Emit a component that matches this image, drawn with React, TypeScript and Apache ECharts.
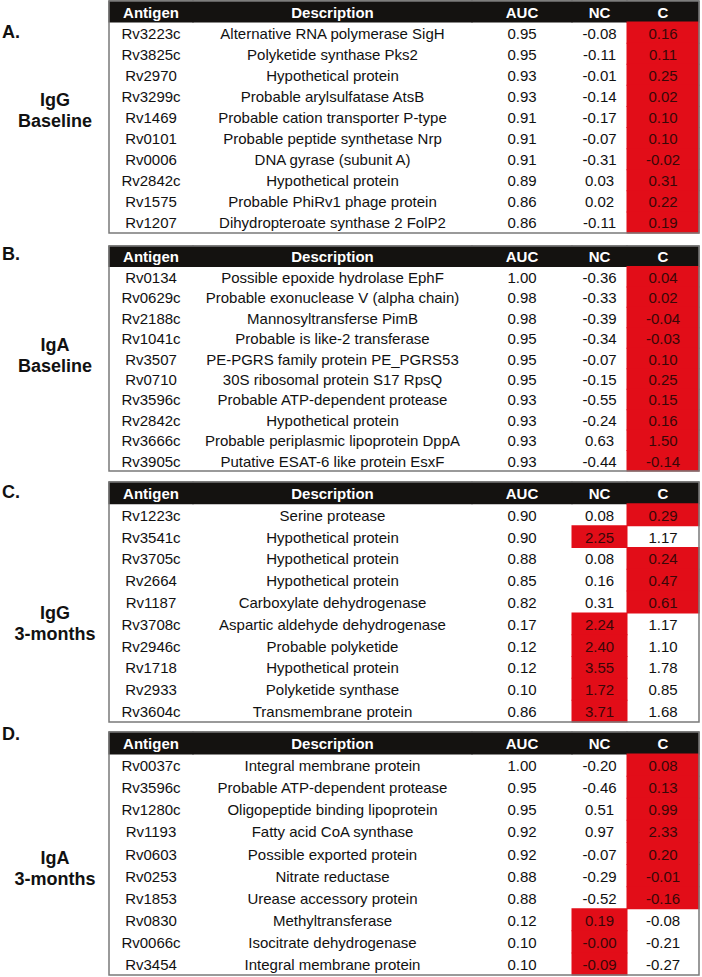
import React, { useEffect, useRef } from "react";
import * as echarts from "echarts";

const COLUMNS = ["Antigen", "Description", "AUC", "NC", "C"];

// Panel A: IgG Baseline
const antigensA = ["Rv3223c", "Rv3825c", "Rv2970", "Rv3299c", "Rv1469", "Rv0101", "Rv0006", "Rv2842c", "Rv1575", "Rv1207"];
const descA = [
  "Alternative RNA polymerase SigH", "Polyketide synthase Pks2", "Hypothetical protein", "Probable arylsulfatase AtsB",
  "Probable cation transporter P-type", "Probable peptide synthetase Nrp", "DNA gyrase (subunit A)", "Hypothetical protein",
  "Probable PhiRv1 phage protein", "Dihydropteroate synthase 2 FolP2",
];
const aucA = [0.95, 0.95, 0.93, 0.93, 0.91, 0.91, 0.91, 0.89, 0.86, 0.86];
const ncA = [-0.08, -0.11, -0.01, -0.14, -0.17, -0.07, -0.31, 0.03, 0.02, -0.11];
const cA = [0.16, 0.11, 0.25, 0.02, 0.1, 0.1, -0.02, 0.31, 0.22, 0.19];
const hiA = ["C", "C", "C", "C", "C", "C", "C", "C", "C", "C"];

// Panel B: IgA Baseline
const antigensB = ["Rv0134", "Rv0629c", "Rv2188c", "Rv1041c", "Rv3507", "Rv0710", "Rv3596c", "Rv2842c", "Rv3666c", "Rv3905c"];
const descB = [
  "Possible epoxide hydrolase EphF", "Probable exonuclease V (alpha chain)", "Mannosyltransferse PimB", "Probable is like-2 transferase",
  "PE-PGRS family protein PE_PGRS53", "30S ribosomal protein S17 RpsQ", "Probable ATP-dependent protease", "Hypothetical protein",
  "Probable periplasmic lipoprotein DppA", "Putative ESAT-6 like protein EsxF",
];
const aucB = [1.0, 0.98, 0.98, 0.95, 0.95, 0.95, 0.93, 0.93, 0.93, 0.93];
const ncB = [-0.36, -0.33, -0.39, -0.34, -0.07, -0.15, -0.55, -0.24, 0.63, -0.44];
const cB = [0.04, 0.02, -0.04, -0.03, 0.1, 0.25, 0.15, 0.16, 1.5, -0.14];
const hiB = ["C", "C", "C", "C", "C", "C", "C", "C", "C", "C"];

// Panel C: IgG 3-months
const antigensC = ["Rv1223c", "Rv3541c", "Rv3705c", "Rv2664", "Rv1187", "Rv3708c", "Rv2946c", "Rv1718", "Rv2933", "Rv3604c"];
const descC = [
  "Serine protease", "Hypothetical protein", "Hypothetical protein", "Hypothetical protein", "Carboxylate dehydrogenase",
  "Aspartic aldehyde dehydrogenase", "Probable polyketide", "Hypothetical protein", "Polyketide synthase", "Transmembrane protein",
];
const aucC = [0.9, 0.9, 0.88, 0.85, 0.82, 0.17, 0.12, 0.12, 0.1, 0.86];
const ncC = [0.08, 2.25, 0.08, 0.16, 0.31, 2.24, 2.4, 3.55, 1.72, 3.71];
const cC = [0.29, 1.17, 0.24, 0.47, 0.61, 1.17, 1.1, 1.78, 0.85, 1.68];
const hiC = ["C", "NC", "C", "C", "C", "NC", "NC", "NC", "NC", "NC"];

// Panel D: IgA 3-months
const antigensD = ["Rv0037c", "Rv3596c", "Rv1280c", "Rv1193", "Rv0603", "Rv0253", "Rv1853", "Rv0830", "Rv0066c", "Rv3454"];
const descD = [
  "Integral membrane protein", "Probable ATP-dependent protease", "Oligopeptide binding lipoprotein", "Fatty acid CoA synthase",
  "Possible exported protein", "Nitrate reductase", "Urease accessory protein", "Methyltransferase", "Isocitrate dehydrogenase",
  "Integral membrane protein",
];
const aucD = [1.0, 0.95, 0.95, 0.92, 0.92, 0.88, 0.88, 0.12, 0.1, 0.1];
const ncD = [-0.2, -0.46, 0.51, 0.97, -0.07, -0.29, -0.52, 0.19, -0, -0.09];
const cD = [0.08, 0.13, 0.99, 2.33, 0.2, -0.01, -0.16, -0.08, -0.21, -0.27];
const hiD = ["C", "C", "C", "C", "C", "C", "C", "NC", "NC", "NC"];

const panelLetters = ["A.", "B.", "C.", "D."];
const panelTitles = ["IgG\nBaseline", "IgA\nBaseline", "IgG\n3-months", "IgA\n3-months"];

const PANELS = [
  { antigens: antigensA, desc: descA, auc: aucA, nc: ncA, c: cA, hi: hiA },
  { antigens: antigensB, desc: descB, auc: aucB, nc: ncB, c: cB, hi: hiB },
  { antigens: antigensC, desc: descC, auc: aucC, nc: ncC, c: cC, hi: hiC },
  { antigens: antigensD, desc: descD, auc: aucD, nc: ncD, c: cD, hi: hiD },
];

// layout (pixels)
const TABLE_LEFT = 109;
const TABLE_WIDTH = 590;
const COL_EDGES = [0, 84, 363, 463, 518, 590];
const GRID_TOPS = [1, 246, 482, 732];
const GRID_HEIGHTS = [232, 225, 240, 243];
const LETTER_Y = [33, 255, 493, 735];
const TITLE_Y = [110, 355, 623, 868];

const RED = "#e20d18";
const HEADER = "#141210";
const FONT = "'Liberation Sans', Arial, Helvetica, sans-serif";

function fmt(v: number): string {
  if (v < 0 || Object.is(v, -0)) return "-" + Math.abs(v).toFixed(2);
  return v.toFixed(2);
}

function buildCells(p: any) {
  const cells: any[] = [];
  COLUMNS.forEach((name, ci) => cells.push([ci, 0, name, 1]));
  p.antigens.forEach((a: string, r: number) => {
    const row = r + 1;
    cells.push([0, row, a, 0]);
    cells.push([1, row, p.desc[r], 0]);
    cells.push([2, row, p.auc[r].toFixed(2), 0]);
    cells.push([3, row, fmt(p.nc[r]), p.hi[r] === "NC" ? 2 : 0]);
    cells.push([4, row, fmt(p.c[r]), p.hi[r] === "C" ? 2 : 0]);
  });
  return cells;
}

function renderCell(params: any, api: any) {
  const col = api.value(0);
  const row = api.value(1);
  const text = api.value(2);
  const kind = api.value(3);
  const left = api.coord([COL_EDGES[col], row]);
  const right = api.coord([COL_EDGES[col + 1], row]);
  const h = api.size([0, 1])[1];
  const cx = (left[0] + right[0]) / 2;
  const cy = left[1];
  const children: any[] = [];
  if (kind === 1 || kind === 2) {
    children.push({
      type: "rect",
      shape: { x: left[0] - 0.5, y: cy - h / 2 - 0.5, width: right[0] - left[0] + 1, height: h + 1 },
      style: { fill: kind === 1 ? HEADER : RED },
    });
  }
  children.push({
    type: "text",
    style: {
      x: cx,
      y: cy + 0.5,
      text,
      align: "center",
      verticalAlign: "middle",
      fontFamily: FONT,
      fontSize: 15,
      fontWeight: kind === 1 ? "bold" : "normal",
      fill: kind === 1 ? "#ffffff" : kind === 2 ? "#3a0707" : "#111111",
    },
  });
  return { type: "group", children };
}

export default function App() {
  const ref = useRef<HTMLDivElement>(null);
  useEffect(() => {
    if (!ref.current) return;
    const chart = echarts.init(ref.current, null, { renderer: "svg" });
    const grids = PANELS.map((_, i) => ({
      show: true,
      z: 10,
      left: TABLE_LEFT,
      width: TABLE_WIDTH,
      top: GRID_TOPS[i],
      height: GRID_HEIGHTS[i],
      backgroundColor: "rgba(0,0,0,0)",
      borderColor: "#7a7a7a",
      borderWidth: 1.5,
    }));
    const xAxes = PANELS.map((_, i) => ({ type: "value", gridIndex: i, min: 0, max: COL_EDGES[COL_EDGES.length - 1], show: false }));
    const yAxes = PANELS.map((p, i) => ({
      type: "category",
      gridIndex: i,
      inverse: true,
      show: false,
      data: ["header", ...p.antigens],
    }));
    const series = PANELS.map((p, i) => ({
      type: "custom",
      coordinateSystem: "cartesian2d",
      xAxisIndex: i,
      yAxisIndex: i,
      encode: { x: 0, y: 1 },
      renderItem: renderCell,
      data: buildCells(p),
      silent: true,
    }));
    const graphic: any[] = [];
    panelLetters.forEach((l, i) => {
      graphic.push({
        type: "text",
        left: 2,
        top: LETTER_Y[i] - 10,
        style: { text: l, font: `bold 18px ${FONT}`, fill: "#111" },
      });
      graphic.push({
        type: "text",
        x: 55,
        y: TITLE_Y[i],
        style: {
          text: panelTitles[i],
          font: `bold 18px ${FONT}`,
          fill: "#111",
          align: "center",
          verticalAlign: "middle",
          lineHeight: 21,
        },
      });
    });
    chart.setOption({
      animation: false,
      backgroundColor: "#ffffff",
      grid: grids,
      xAxis: xAxes,
      yAxis: yAxes,
      series,
      graphic,
    });
    return () => chart.dispose();
  }, []);
  return <div ref={ref} style={{ position: "fixed", left: 0, top: 0, width: 702, height: 977 }} />;
}
